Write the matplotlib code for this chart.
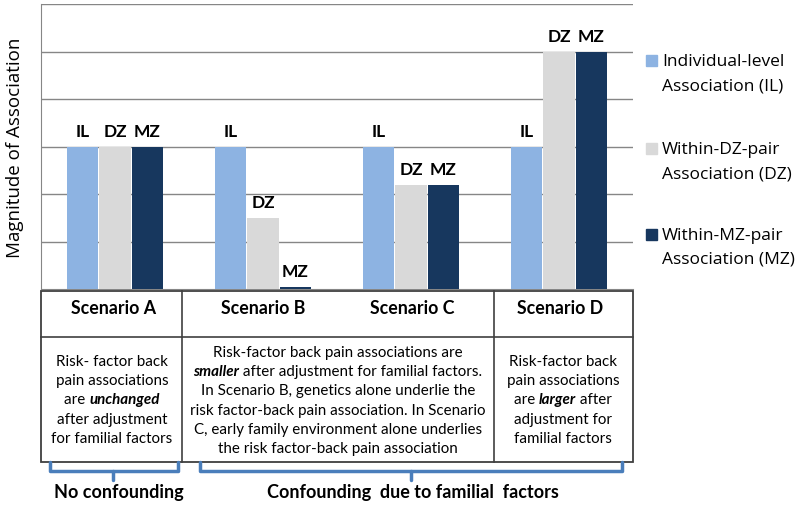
import matplotlib
matplotlib.use("Agg")
import matplotlib.pyplot as plt
from matplotlib.patches import Rectangle
import numpy as np

# chart data
scenarios = ["Scenario A", "Scenario B", "Scenario C", "Scenario D"]
bar_tags = ["IL", "DZ", "MZ"]
series_names = ["Individual-level\nAssociation (IL)",
                "Within-DZ-pair\nAssociation (DZ)",
                "Within-MZ-pair\nAssociation (MZ)"]
il_values = [3.0, 3.0, 3.0, 3.0]
dz_values = [3.0, 1.5, 2.2, 5.0]
mz_values = [3.0, 0.05, 2.2, 5.0]
colors = ["#8db3e2", "#d9d9d9", "#17375e"]

# table text, (text, style) pieces per line
text_a = [[("Risk- factor back", "")],
          [("pain associations", "")],
          [("are ", ""), ("unchanged", "bi")],
          [("after adjustment", "")],
          [("for familial factors", "")]]
text_bc = [[("Risk-factor back pain associations are", "")],
           [("smaller", "bi"), (" after adjustment for familial factors.", "")],
           [("In Scenario B, genetics alone underlie the", "")],
           [("risk factor-back pain association. In Scenario", "")],
           [("C, early family environment alone underlies", "")],
           [("the risk factor-back pain association", "")]]
text_d = [[("Risk-factor back", "")],
          [("pain associations", "")],
          [("are ", ""), ("larger", "bi"), (" after", "")],
          [("adjustment for", "")],
          [("familial factors", "")]]
groups = ["No confounding", "Confounding  due to familial  factors"]

BODY = ["Lato", "DejaVu Sans"]
SANS = ["Open Sans", "DejaVu Sans"]

fig = plt.figure(figsize=(8, 5.06), dpi=100)
ax = fig.add_axes([41 / 800, 1 - 290 / 506, 592 / 800, 285 / 506])

x = np.arange(len(scenarios)) + 0.5
w = 0.215
offsets = [-0.22, 0.0, 0.22]
for vals, off, col, tag in zip([il_values, dz_values, mz_values], offsets, colors, bar_tags):
    ax.bar(x + off, vals, width=w, color=col, zorder=3)
    for xi, v in zip(x + off, vals):
        ax.annotate(tag, (xi, v), xytext=(0, 11), textcoords="offset points",
                    ha="center", va="center", fontsize=12.5, fontweight="bold",
                    family=BODY, zorder=4)

ax.set_xlim(0, 4)
ax.set_ylim(0, 6)
ax.set_yticks(range(1, 7))
ax.set_xticks([])
ax.tick_params(axis="y", length=0, labelleft=False)
ax.grid(axis="y", color="#868686", linewidth=1, zorder=0)
for s in ["top", "right"]:
    ax.spines[s].set_visible(False)
ax.spines["left"].set_color("#868686")
ax.spines["bottom"].set_color("#868686")
ax.set_ylabel("Magnitude of Association", fontsize=13.5, family=SANS)
ax.yaxis.set_label_coords(-0.029, 0.5)

# overlay in pixel coordinates for legend / table / brackets
ov = fig.add_axes([0, 0, 1, 1])
ov.set_xlim(0, 800)
ov.set_ylim(506, 0)
ov.axis("off")

# legend
for name, col, yy in zip(series_names, colors, [61, 149, 235]):
    ov.add_patch(Rectangle((646, yy - 5.5), 11, 11, color=col))
    for k, line in enumerate(name.split("\n")):
        ov.text(662, yy + 1 + k * 24, line, fontsize=12.5, family=SANS,
                va="center", ha="left")

# table
lc = "#3f3f3f"
ov.add_patch(Rectangle((41, 292), 592, 171, fill=False, edgecolor=lc, linewidth=1.3))
ov.plot([41, 633], [338, 338], color=lc, linewidth=1.2)
ov.plot([182, 182], [292, 463], color=lc, linewidth=1.2)
ov.plot([494, 494], [292, 463], color=lc, linewidth=1.2)
for name, cx in zip(scenarios, [114, 263, 412, 560]):
    ov.text(cx, 309, name, fontsize=12.8, fontweight="bold", family=BODY,
            ha="center", va="center")

renderer = fig.canvas.get_renderer()


def rich_line(cx, y, parts, size=10.9):
    items = []
    for s, style in parts:
        t = ov.text(0, y, s, fontsize=size, family=BODY, ha="left", va="center",
                    fontweight="bold" if "b" in style else "normal",
                    fontstyle="italic" if "i" in style else "normal")
        items.append((t, t.get_window_extent(renderer=renderer).width))
    cur = cx - sum(wd for _, wd in items) / 2
    for t, wd in items:
        t.set_x(cur)
        cur += wd


for lines, cx, y0 in [(text_a, 112, 362), (text_bc, 338, 353), (text_d, 563, 362)]:
    for i, parts in enumerate(lines):
        rich_line(cx, y0 + i * 19.2, parts)

# brackets
bc = "#4a7ebb"
for x0, x1, xm in [(50, 178, 113), (200, 622, 411)]:
    ov.plot([x0, x0, x1, x1], [463, 472, 472, 463], color=bc, linewidth=2.5,
            solid_joinstyle="round", solid_capstyle="round")
    ov.plot([xm, xm], [472, 481], color=bc, linewidth=2.5, solid_capstyle="round")
for name, cx in zip(groups, [119, 413]):
    ov.text(cx, 493, name, fontsize=13, fontweight="bold", family=BODY,
            ha="center", va="center")

fig.savefig("out.png", dpi=100)
